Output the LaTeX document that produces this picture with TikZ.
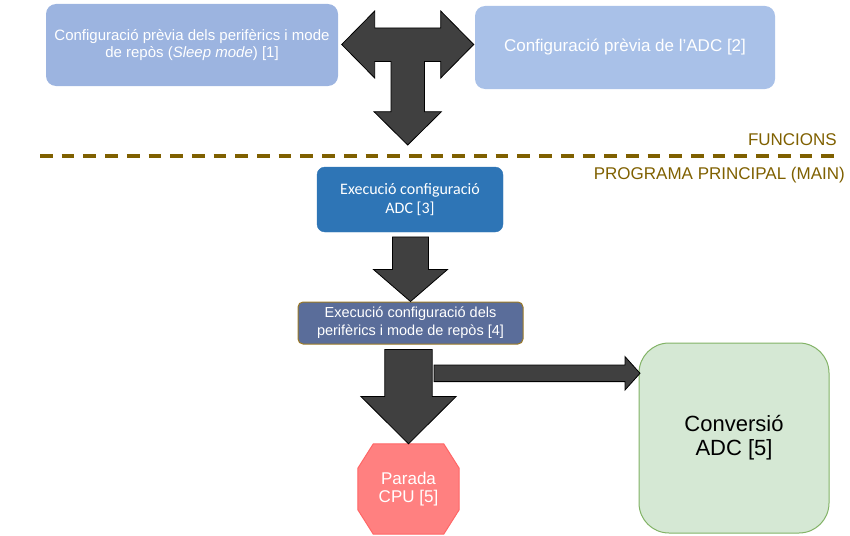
\documentclass[tikz,border=0pt]{standalone}
\usepackage{fontspec}
\setmainfont{Liberation Sans}
\newfontfamily\calibrilike{Carlito}
\usetikzlibrary{calc}

\definecolor{cfgA}{HTML}{9CB4E0}
\definecolor{cfgB}{HTML}{A9C1E8}
\definecolor{execA}{HTML}{2E75B6}
\definecolor{execB}{HTML}{5A6D9A}
\definecolor{execBline}{HTML}{9C7A26}
\definecolor{arrowgrey}{HTML}{404040}
\definecolor{stopred}{HTML}{FF8080}
\definecolor{stopline}{HTML}{FF6666}
\definecolor{convfill}{HTML}{D5E8D4}
\definecolor{convline}{HTML}{82B366}
\definecolor{sepbrown}{HTML}{7F6000}

\tikzset{
  box/.style={rectangle, align=center, text=white, inner sep=2pt},
  blockarrow/.style={fill=arrowgrey, draw=black, line width=0.8pt, line join=miter},
  seplabel/.style={text=sepbrown, font=\fontsize{17}{20}\selectfont, inner sep=0pt, anchor=east},
  stopshape/.style={fill=stopred, draw=stopline, line width=1pt},
}

% vertical block arrow: tail centre, tip, half bar width, half head width, head length
\newcommand\downblock[5]{%
  \draw[blockarrow] let \p1=(#1), \p2=(#2) in
    (\x2-#3,\y1) -- (\x2+#3,\y1) -- (\x2+#3,\y2+#5) -- (\x2+#4,\y2+#5) --
    (\x2,\y2) -- (\x2-#4,\y2+#5) -- (\x2-#3,\y2+#5) -- cycle;}
% horizontal block arrow pointing right
\newcommand\rightblock[5]{%
  \draw[blockarrow] let \p1=(#1), \p2=(#2) in
    (\x1,\y2+#3) -- (\x2-#5,\y2+#3) -- (\x2-#5,\y2+#4) -- (\x2,\y2) --
    (\x2-#5,\y2-#4) -- (\x2-#5,\y2-#3) -- (\x1,\y2-#3) -- cycle;}

\begin{document}
\begin{tikzpicture}[x=1pt,y=-1pt]
\useasboundingbox (0,0) rectangle (850,535);

% function definitions
\node[box, fill=cfgA, rounded corners=10pt, minimum width=292pt, minimum height=82pt,
      font=\fontsize{15}{17}\selectfont] (cfg1) at (192,45)
  {Configuració prèvia dels perifèrics i mode\\de repòs (\textit{Sleep mode}) [1]};
\node[box, fill=cfgB, rounded corners=10pt, minimum width=300pt, minimum height=83pt,
      font=\fontsize{17}{20}\selectfont] (cfg2) at (625,47.5)
  {Configuració prèvia de l’ADC [2]};

% three-way arrow between the two definitions
\coordinate (tee) at (407.7,44.5);
\draw[blockarrow, shift={(tee)}]
  (-66,0) -- (-33,-33.5) -- (-33,-16.5) -- (33,-16.5) -- (33,-33.5) -- (66,0) --
  (33,33.5) -- (33,17) -- (16.7,17) -- (16.7,67.2) -- (33.7,67.2) -- (0,100.5) --
  (-33.7,67.2) -- (-16.7,67.2) -- (-16.7,17) -- (-33,17) -- (-33,33.5) -- cycle;

% separator between functions and main program
\coordinate (sepL) at (40,156);
\coordinate (sepR) at (840,156);
\draw[sepbrown, line width=3.5pt, dash pattern=on 12.7pt off 9pt] (sepL) -- (sepR);
\node[seplabel] (lblfun) at (837,140) {FUNCIONS};
\node[seplabel] (lblmain) at (845,175) {PROGRAMA PRINCIPAL (MAIN)};

% main program
\node[box, fill=execA, draw=execA, rounded corners=8pt, minimum width=186pt, minimum height=65pt,
      font=\calibrilike\fontsize{16}{19}\selectfont] (exe3) at (410,199.5)
  {Execució configuració\\ADC [3]};
\node[box, fill=execB, draw=execBline, line width=1pt, rounded corners=5pt,
      minimum width=225pt, minimum height=42pt,
      font=\fontsize{14.5}{17.7}\selectfont] (exe4) at (410.5,323)
  {Execució configuració dels\\perifèrics i mode de repòs [4]};

% stop sign: frame node, octagon outline, then its text
\node[rectangle, minimum width=101pt, minimum height=90pt, inner sep=0pt] (stop) at (408.5,489) {};
\path[stopshape]
  ($(stop.north west)+(15.5,0)$) -- ($(stop.north east)+(-15.5,0)$) --
  ($(stop.north east)+(0,24.5)$) -- ($(stop.south east)+(0,-24.5)$) --
  ($(stop.south east)+(-15.5,0)$) -- ($(stop.south west)+(15.5,0)$) --
  ($(stop.south west)+(0,-24.5)$) -- ($(stop.north west)+(0,24.5)$) -- cycle;
\node[text=white, align=center, font=\fontsize{17}{18}\selectfont] (stoptext) at (stop.center)
  {Parada\\CPU [5]};

\node[rectangle, fill=convfill, draw=convline, line width=1pt, rounded corners=30pt,
      minimum width=190pt, minimum height=190pt, align=center,
      font=\fontsize{22}{24}\selectfont] (conv) at (734,438) {Conversió\\ADC [5]};

% flow arrows
\coordinate (a2tail) at ($(exe3.south)+(0,4.7)$);
\downblock{a2tail}{exe4.north}{18pt}{37pt}{32pt}

\coordinate (a3tail) at ($(exe4.south)+(-0.5,5)$);
\coordinate (a4tail) at (434,373.3);
\coordinate (a4tip) at (640,373.3);
\rightblock{a4tail}{a4tip}{8.3pt}{16.7pt}{15pt}
\downblock{a3tail}{stop.north}{23.7pt}{47.6pt}{47.3pt}

\end{tikzpicture}
\end{document}
